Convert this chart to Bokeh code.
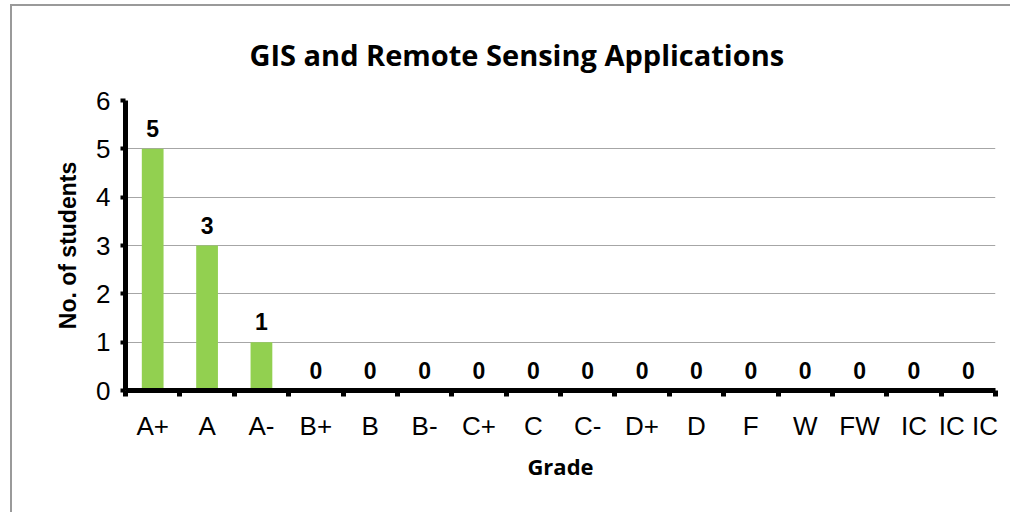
from bokeh.plotting import figure
from bokeh.models import Range1d, FixedTicker, ColumnDataSource
from bokeh.embed import file_html
from bokeh.resources import INLINE
from bokeh.core.properties import value

title_text = "GIS and Remote Sensing Applications"
grades = ["A+", "A", "A-", "B+", "B", "B-", "C+", "C", "C-", "D+", "D", "F", "W", "FW", "IC", "IC IC"]
students = [5, 3, 1, 0, 0, 0, 0, 0, 0, 0, 0, 0, 0, 0, 0, 0]
y_ticks = [0, 1, 2, 3, 4, 5, 6]

n = len(grades)
xpos = [i + 0.5 for i in range(n)]
src = ColumnDataSource(dict(x=xpos, y=students, label=[str(v) for v in students]))

p = figure(width=1000, height=508, output_backend="svg", toolbar_location=None,
           x_range=Range1d(0, n), y_range=Range1d(0, 6),
           min_border_left=113, min_border_right=17, min_border_top=94, min_border_bottom=124)
p.styles = {"border-left": "2px solid #9a9a9a", "border-top": "2px solid #9a9a9a",
            "margin-left": "10px", "margin-top": "4px"}
p.outline_line_color = None
p.background_fill_color = "white"
p.border_fill_color = "white"

p.vbar(x="x", top="y", width=0.4, bottom=0, source=src, fill_color="#92D050", line_color=None)
p.text(x="x", y="y", text="label", source=src, y_offset=-12, text_align="center",
       text_baseline="bottom", text_font=value("Liberation Sans"), text_font_style="bold",
       text_font_size="23px", text_color="black")

p.title.text = title_text
p.title.align = "left"
p.title.text_font = "Open Sans"
p.title.text_font_style = "bold"
p.title.text_font_size = "29px"
p.title.text_color = "black"
p.title.offset = 124
p.title.standoff = 53

xa = p.xaxis[0]
xa.ticker = FixedTicker(ticks=xpos, minor_ticks=list(range(n + 1)))
xa.major_label_overrides = {x: g for x, g in zip(xpos, grades)}
xa.major_tick_line_color = None
xa.minor_tick_line_color = "black"
xa.minor_tick_line_width = 5
xa.minor_tick_out = 6
xa.minor_tick_in = 0
xa.axis_line_width = 5
xa.axis_line_color = "black"
xa.major_label_text_font = "Liberation Sans"
xa.major_label_text_font_size = "26px"
xa.major_label_text_color = "black"
xa.major_label_standoff = 14
xa.axis_label = "Grade"
xa.axis_label_text_font = "Open Sans"
xa.axis_label_text_font_style = "bold"
xa.axis_label_text_font_size = "22px"
xa.axis_label_text_color = "black"
xa.axis_label_standoff = 7

ya = p.yaxis[0]
ya.ticker = FixedTicker(ticks=y_ticks)
ya.major_tick_line_width = 4
ya.major_tick_out = 5
ya.major_tick_in = 0
ya.minor_tick_line_color = None
ya.axis_line_width = 5
ya.axis_line_color = "black"
ya.major_label_text_font = "Liberation Sans"
ya.major_label_text_font_size = "26px"
ya.major_label_text_color = "black"
ya.major_label_standoff = 10
ya.axis_label = "No. of students"
ya.axis_label_text_font = "Liberation Sans"
ya.axis_label_text_font_style = "bold"
ya.axis_label_text_font_size = "23px"
ya.axis_label_text_color = "black"
ya.axis_label_standoff = 12

p.xgrid.grid_line_color = None
p.ygrid.grid_line_color = "#a6a6a6"
p.ygrid.grid_line_width = 1

open("out.html", "w").write(file_html(p, INLINE))
